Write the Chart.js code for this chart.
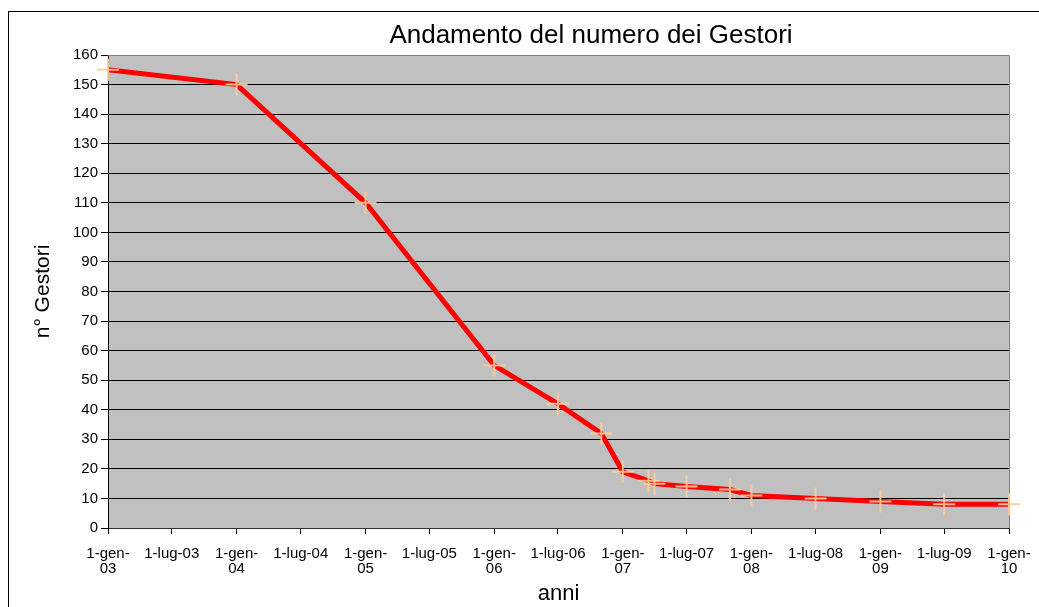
<!DOCTYPE html>
<html>
<head>
<meta charset="utf-8">
<title>Andamento del numero dei Gestori</title>
<script src="https://cdn.jsdelivr.net/npm/chart.js@4.4.1/dist/chart.umd.min.js"></script>
<style>
  html, body { margin: 0; padding: 0; background: #fff; overflow: hidden; }
  #wrap { position: relative; width: 1039px; height: 607px; overflow: hidden; }
  #frame { position: absolute; left: 8px; top: 11px; width: 1100px; height: 700px; border: 1px solid #000; }
  canvas { position: absolute; left: 0; top: 0; }
</style>
</head>
<body>
<div id="wrap">
  <div id="frame"></div>
  <canvas id="chart" width="1039" height="607"></canvas>
</div>
<script>
const chartTitle = 'Andamento del numero dei Gestori'
const xTitle = 'anni'
const yTitle = 'n° Gestori'

// date dei rilevamenti e numero dei gestori
const dates = ['2003-01-01', '2004-01-01', '2005-01-01', '2006-01-01', '2006-07-01', '2006-11-01',
               '2007-01-01', '2007-03-15', '2007-04-01', '2007-07-01', '2007-11-01', '2008-01-01',
               '2008-07-01', '2009-01-01', '2009-07-01', '2010-01-01']
const gestori = [155, 150, 110, 55, 42, 32, 19, 16, 15, 14, 13, 11, 10, 9, 8, 8]

// etichette dell'asse delle date
const tickDates = ['2003-01-01', '2003-07-01', '2004-01-01', '2004-07-01', '2005-01-01', '2005-07-01',
                   '2006-01-01', '2006-07-01', '2007-01-01', '2007-07-01', '2008-01-01', '2008-07-01',
                   '2009-01-01', '2009-07-01', '2010-01-01']
const tickLabels = [['1-gen-', '03'], '1-lug-03', ['1-gen-', '04'], '1-lug-04', ['1-gen-', '05'], '1-lug-05',
                    ['1-gen-', '06'], '1-lug-06', ['1-gen-', '07'], '1-lug-07', ['1-gen-', '08'], '1-lug-08',
                    ['1-gen-', '09'], '1-lug-09', ['1-gen-', '10']]

const day0 = Date.parse(dates[0])
const toDay = d => (Date.parse(d) - day0) / 86400000

const FONT = '"Liberation Sans", Arial, sans-serif'
Chart.defaults.font.family = FONT
Chart.defaults.color = '#000'

const plotArea = {
    id: 'plotArea',
    beforeDraw(chart) {
        const { ctx, chartArea: a } = chart
        ctx.save()
        ctx.fillStyle = '#C0C0C0'
        ctx.fillRect(a.left, a.top, a.width, a.height)
        ctx.restore()
    },
    beforeDatasetsDraw(chart) {
        const { ctx, chartArea: a } = chart
        ctx.save()
        ctx.strokeStyle = '#808080'
        ctx.lineWidth = 1
        ctx.beginPath()
        ctx.moveTo(a.left, a.top + 0.5)
        ctx.lineTo(a.right + 0.5, a.top + 0.5)
        ctx.lineTo(a.right + 0.5, a.bottom)
        ctx.stroke()
        ctx.restore()
    },
    afterDraw(chart) {
        const ctx = chart.ctx
        ctx.save()
        ctx.font = '26px ' + FONT
        ctx.fillStyle = '#000'
        ctx.textAlign = 'center'
        ctx.textBaseline = 'alphabetic'
        ctx.fillText(chartTitle, 591, 43)
        ctx.restore()
    }
}

new Chart(document.getElementById('chart'), {
    type: 'line',
    data: {
        datasets: [{
            label: yTitle,
            data: dates.map((d, i) => ({ x: toDay(d), y: gestori[i] })),
            borderColor: '#FF0000',
            borderWidth: 5,
            tension: 0,
            clip: false,
            pointStyle: 'cross',
            pointRadius: 11,
            pointBorderWidth: 2,
            pointBorderColor: 'rgba(255, 204, 153, 0.9)',
            pointBackgroundColor: 'rgba(0,0,0,0)'
        }]
    },
    options: {
        responsive: false,
        animation: false,
        devicePixelRatio: 1,
        layout: { padding: { left: 25, top: 55, right: 30, bottom: 2 } },
        plugins: {
            legend: { display: false },
            tooltip: { enabled: false }
        },
        scales: {
            x: {
                type: 'linear',
                min: 0,
                max: toDay(tickDates[tickDates.length - 1]),
                afterBuildTicks: s => { s.ticks = tickDates.map(d => ({ value: toDay(d) })) },
                afterFit: s => {
                    s.height = 77
                    s.paddingLeft = 0
                    s.paddingRight = 0
                },
                ticks: {
                    autoSkip: false,
                    maxRotation: 0,
                    padding: 12,
                    color: '#000',
                    font: { size: 15, lineHeight: 1 },
                    callback: (v, i) => tickLabels[i]
                },
                grid: { drawOnChartArea: false, tickLength: 6, color: '#000' },
                border: { color: '#333' },
                title: { display: true, text: xTitle, color: '#000', font: { size: 22, lineHeight: 1 }, padding: 0 }
            },
            y: {
                min: 0,
                max: 160,
                afterFit: s => { s.width = 83 },
                ticks: { stepSize: 10, padding: 3, color: '#000', font: { size: 15 } },
                grid: {
                    color: ctx => ctx.tick && ctx.tick.value === 160 ? '#808080' : '#000',
                    tickColor: '#000',
                    tickLength: 7
                },
                border: { color: '#000' },
                title: { display: true, text: yTitle, color: '#000', font: { size: 21 }, padding: { top: 6, bottom: 4 } }
            }
        }
    },
    plugins: [plotArea]
})
</script>
</body>
</html>
